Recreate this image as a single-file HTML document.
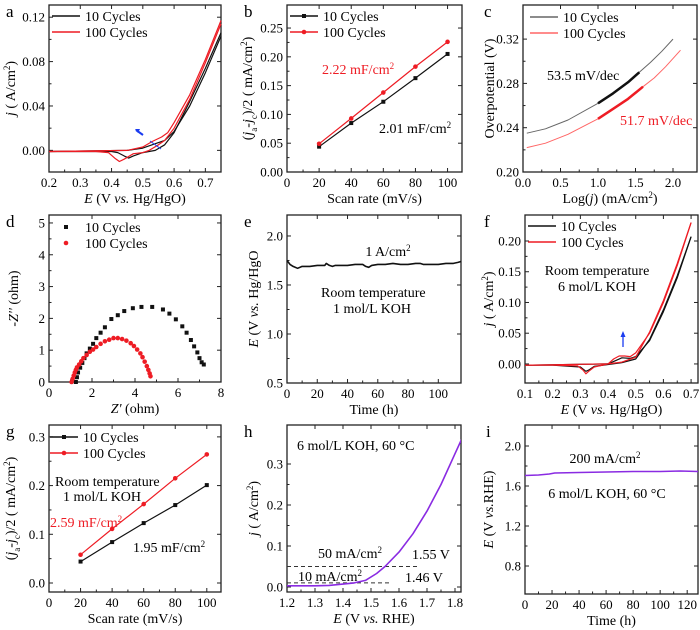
<!DOCTYPE html>
<html><head><meta charset="utf-8"><style>
html,body{margin:0;padding:0;background:#fff}
svg{display:block;font-family:"Liberation Serif","Times New Roman","DejaVu Serif",serif}
svg text{font-family:"Liberation Serif","Times New Roman","DejaVu Serif",serif}
</style></head><body>
<svg id="fig" width="700" height="630" viewBox="0 0 700 630" font-family="Liberation Serif, DejaVu Serif, serif" xmlns="http://www.w3.org/2000/svg"></svg>
<script>
// ---- panel a data ----
const aBlackFwdE=[0.2,0.45,0.5,0.54,0.57,0.6,0.65,0.7,0.75];
const aBlackFwdJ=[-0.001,0.0,0.002,0.006,0.009,0.017,0.04,0.07,0.103];
const aBlackRevE=[0.75,0.7,0.65,0.6,0.57,0.54,0.5,0.47,0.455,0.44,0.42,0.4,0.2];
const aBlackRevJ=[0.106,0.074,0.044,0.016,0.005,0.0,-0.002,-0.005,-0.007,-0.005,-0.002,-0.001,-0.001];
const aRedFwdE=[0.2,0.45,0.5,0.53,0.56,0.58,0.6,0.65,0.7,0.75];
const aRedFwdJ=[-0.001,0.0,0.003,0.008,0.012,0.016,0.025,0.05,0.082,0.117];
const aRedRevE=[0.75,0.7,0.65,0.6,0.57,0.55,0.52,0.5,0.47,0.44,0.425,0.41,0.39,0.35,0.2];
const aRedRevJ=[0.114,0.079,0.046,0.02,0.009,0.005,0.0,-0.002,-0.003,-0.008,-0.01,-0.007,-0.002,-0.001,-0.001];
// ---- panel b data ----
const bRates=[20,40,60,80,100];
const bBlack=[0.044,0.085,0.122,0.163,0.205];
const bRed=[0.049,0.093,0.138,0.183,0.226];
// ---- panel c data ----
const cBlackX=[0.05,0.3,0.6,1.0,1.2,1.4,1.55,1.7,1.85,2.0];
const cBlackY=[0.235,0.239,0.247,0.262,0.271,0.281,0.290,0.299,0.309,0.320];
const cRedX=[0.05,0.3,0.6,1.0,1.2,1.4,1.6,1.75,1.9,2.1];
const cRedY=[0.222,0.226,0.234,0.248,0.257,0.266,0.277,0.285,0.295,0.310];
const cBlackBoldX=[1.0,1.2,1.4,1.55];
const cBlackBoldY=[0.262,0.271,0.281,0.290];
const cRedBoldX=[1.0,1.2,1.4,1.6];
const cRedBoldY=[0.248,0.257,0.266,0.277];
// ---- panel d data ----
const dBlackX=[1.25,1.3,1.35,1.45,1.55,1.65,1.75,1.9,2.05,2.2,2.4,2.6,2.9,3.2,3.5,3.9,4.3,4.8,5.3,5.6,5.9,6.2,6.4,6.6,6.75,6.9,7.0,7.1,7.2];
const dBlackY=[0.0,0.15,0.3,0.45,0.6,0.75,0.9,1.05,1.2,1.38,1.55,1.72,1.98,2.1,2.23,2.32,2.36,2.36,2.28,2.15,1.97,1.75,1.55,1.32,1.12,0.93,0.75,0.62,0.55];
const dRedX=[1.05,1.1,1.15,1.2,1.25,1.3,1.4,1.5,1.6,1.75,1.9,2.05,2.2,2.4,2.6,2.8,3.0,3.2,3.4,3.6,3.8,3.95,4.1,4.25,4.35,4.45,4.55,4.62,4.68,4.72];
const dRedY=[0,0.1,0.2,0.3,0.38,0.46,0.55,0.65,0.75,0.85,0.95,1.02,1.1,1.2,1.28,1.33,1.38,1.38,1.35,1.3,1.22,1.13,1.02,0.9,0.78,0.64,0.5,0.38,0.27,0.18];
// ---- panel e data ----
const eTime=[0,2,4,7,10,15,20,25,26,28,30,32,35,40,45,50,52,54,56,60,65,70,75,80,85,88,90,95,100,105,110,113,115];
const eVolt=[1.75,1.71,1.69,1.67,1.69,1.69,1.70,1.70,1.72,1.70,1.69,1.70,1.70,1.70,1.71,1.71,1.69,1.68,1.70,1.71,1.71,1.72,1.71,1.71,1.72,1.72,1.71,1.71,1.71,1.72,1.72,1.73,1.74];
// ---- panel f data ----
const fBlackFwdE=[0.1,0.4,0.43,0.45,0.48,0.5,0.55,0.6,0.65,0.7];
const fBlackFwdJ=[-0.002,0.0,0.006,0.01,0.009,0.012,0.038,0.085,0.14,0.207];
const fBlackRevE=[0.7,0.65,0.6,0.55,0.5,0.45,0.35,0.33,0.32,0.3,0.2,0.1];
const fBlackRevJ=[0.207,0.143,0.088,0.04,0.008,0.002,-0.004,-0.01,-0.012,-0.005,-0.002,-0.002];
const fRedFwdE=[0.1,0.4,0.42,0.44,0.46,0.48,0.5,0.55,0.6,0.65,0.7];
const fRedFwdJ=[-0.002,0.0,0.008,0.013,0.013,0.012,0.018,0.05,0.1,0.16,0.23];
const fRedRevE=[0.7,0.65,0.6,0.55,0.5,0.45,0.4,0.35,0.33,0.32,0.31,0.29,0.2,0.1];
const fRedRevJ=[0.23,0.163,0.103,0.052,0.011,0.003,0.0,-0.005,-0.012,-0.016,-0.01,-0.003,-0.002,-0.002];
// ---- panel g data ----
const gRates=[20,40,60,80,100];
const gBlack=[0.044,0.084,0.123,0.160,0.201];
const gRed=[0.058,0.111,0.162,0.215,0.264];
// ---- panel h data ----
const hE=[1.2,1.3,1.35,1.4,1.44,1.48,1.52,1.55,1.6,1.65,1.7,1.75,1.8,1.82,1.84];
const hJ=[0.003,0.003,0.004,0.007,0.01,0.016,0.033,0.05,0.085,0.13,0.185,0.25,0.325,0.355,0.38];
// ---- panel i data ----
const iTime=[0,10,18,22,40,60,80,100,115,128];
const iVolt=[1.705,1.71,1.72,1.73,1.735,1.74,1.745,1.745,1.75,1.745];

const NS="http://www.w3.org/2000/svg";
const svg=document.getElementById('fig');
function el(tag,attrs,parent,txt){const e=document.createElementNS(NS,tag);for(const k in attrs)e.setAttribute(k,attrs[k]);if(txt!==undefined)e.textContent=txt;(parent||svg).appendChild(e);return e;}

function panel(p){
  const g=el('g',{});
  
  
  const sx=v=>p.x0+(v-p.xd[0])/(p.xd[1]-p.xd[0])*(p.x1-p.x0);
  const sy=v=>p.y1-(v-p.yd[0])/(p.yd[1]-p.yd[0])*(p.y1-p.y0);
  const fr=el('rect',{x:p.x0,y:p.y0,width:p.x1-p.x0,height:p.y1-p.y0,fill:'none',stroke:'#222','stroke-width':1.3},g);
  
  
  const lab=el('text',{x:p.lx,y:p.ly,'font-size':17},g,p.id);
  
  
  p.xt.forEach((v,i)=>{const x=sx(v);
    el('line',{x1:x,x2:x,y1:p.y1,y2:p.y1-4,stroke:'#222'},g);
    el('line',{x1:x,x2:x,y1:p.y0,y2:p.y0+4,stroke:'#222'},g);
    const t=el('text',{x:x,y:p.y1+15,'font-size':13,'text-anchor':'middle'},g,p.xl[i]);
    
    
    if(i<p.xt.length-1){const m=sx((v+p.xt[i+1])/2);el('line',{x1:m,x2:m,y1:p.y1,y2:p.y1-2.5,stroke:'#222'},g);}
  });
  p.yt.forEach((v,i)=>{const y=sy(v);
    el('line',{x1:p.x0,x2:p.x0+4,y1:y,y2:y,stroke:'#222'},g);
    el('line',{x1:p.x1,x2:p.x1-4,y1:y,y2:y,stroke:'#222'},g);
    const t=el('text',{x:p.x0-4,y:y+4.5,'font-size':13,'text-anchor':'end'},g,p.yl[i]);
    
    
    if(i<p.yt.length-1){const m=sy((v+p.yt[i+1])/2);el('line',{x1:p.x0,x2:p.x0+2.5,y1:m,y2:m,stroke:'#222'},g);}
  });
  const xt=el('text',{x:(p.x0+p.x1)/2,y:p.y1+31,'font-size':14,'text-anchor':'middle'},g);
  xt.innerHTML=p.xtitle;
  
  
  const yt=el('text',{x:0,y:0,'font-size':14,'text-anchor':'middle',transform:`translate(${p.ytx},${(p.y0+p.y1)/2}) rotate(-90)`},g);
  yt.innerHTML=p.ytitle;
  
  
  return {g,sx,sy};
}
function line(P,xs,ys,color,w,name){
  const d=xs.map((x,i)=>(i?'L':'M')+P.sx(x).toFixed(1)+','+P.sy(ys[i]).toFixed(1)).join('');
  const e=el('path',{d:d,fill:'none',stroke:color,'stroke-width':w||1.3,'stroke-linejoin':'round'},P.g);
  
  
  return e;
}
function marks(P,xs,ys,color,shape,name,sz){
  xs.forEach((x,i)=>{const cx=P.sx(x),cy=P.sy(ys[i]);let m;sz=sz||4;
    if(shape==='sq')m=el('rect',{x:cx-sz/2,y:cy-sz/2,width:sz,height:sz,fill:color},P.g);
    else m=el('circle',{cx:cx,cy:cy,r:sz/2+0.3,fill:color},P.g);
    
    
  });
}
function txt(P,x,y,s,opts){const t=el('text',Object.assign({x:x,y:y,'font-size':14},opts||{}),P.g);t.innerHTML=s;
  
  return t;}
function legend(P,x,y,label,color,mk,noLine){
  const g=el('g',{},P.g);
  
  
  if(!noLine)el('line',{x1:x,x2:x+28,y1:y,y2:y,stroke:color,'stroke-width':1.5},g);
  if(mk==='sq')el('rect',{x:x+12,y:y-2,width:4,height:4,fill:color},g);
  if(mk==='c')el('circle',{cx:x+14,cy:y,r:2.3,fill:color},g);
  el('text',{x:x+33,y:y+5,'font-size':14},g,label);
}
const RED='#ee1c24', BLK='#111';
const JI='<tspan font-style="italic">j</tspan>';
const EI='<tspan font-style="italic">E</tspan>';
const VS='<tspan font-style="italic">vs.</tspan>';

// a
let P=panel({id:'a',x0:49,x1:221,y0:5,y1:172,xd:[0.2,0.75],yd:[-0.0195,0.131],lx:6,ly:17,
 xt:[0.2,0.3,0.4,0.5,0.6,0.7],xl:['0.2','0.3','0.4','0.5','0.6','0.7'],
 yt:[0,0.04,0.08,0.12],yl:['0.00','0.04','0.08','0.12'],
 xtitle:EI+' (V '+VS+' Hg/HgO)',ytitle:JI+' ( A/cm<tspan baseline-shift="super" font-size="9">2</tspan>)',ytx:15});
line(P,aBlackFwdE,aBlackFwdJ,BLK,1.2,'cv-10-cycles-forward');
line(P,aBlackRevE,aBlackRevJ,BLK,1.2,'cv-10-cycles-reverse');
line(P,aRedFwdE,aRedFwdJ,RED,1.2,'cv-100-cycles-forward');
line(P,aRedRevE,aRedRevJ,RED,1.2,'cv-100-cycles-reverse');
el('line',{x1:143,y1:135,x2:136,y2:130,stroke:'#1a3cf0','stroke-width':2},P.g);
el('path',{d:'M135,129 l5,0 l-2,4z',fill:'#1a3cf0'},P.g);
el('line',{x1:150,y1:141,x2:161,y2:149,stroke:'#1a3cf0','stroke-width':1},P.g);
legend(P,52,16,'10 Cycles',BLK);legend(P,52,32,'100 Cycles',RED);

// b
P=panel({id:'b',x0:287,x1:462,y0:5,y1:172,xd:[0,109],yd:[0,0.29],lx:244,ly:17,
 xt:[0,20,40,60,80,100],xl:['0','20','40','60','80','100'],
 yt:[0,0.05,0.1,0.15,0.2,0.25],yl:['0.00','0.05','0.10','0.15','0.20','0.25'],
 xtitle:'Scan rate (mV/s)',ytitle:'(<tspan font-style="italic">j</tspan><tspan baseline-shift="sub" font-size="9">a</tspan>-<tspan font-style="italic">j</tspan><tspan baseline-shift="sub" font-size="9">c</tspan>)/2 ( mA/cm<tspan baseline-shift="super" font-size="9">2</tspan>)',ytx:252});
line(P,bRates,bBlack,BLK,1.2,'line-10-cycles');line(P,bRates,bRed,RED,1.2,'line-100-cycles');
marks(P,bRates,bBlack,BLK,'sq','point-10-cycles');marks(P,bRates,bRed,RED,'c','point-100-cycles');
legend(P,290,16,'10 Cycles',BLK,'sq');legend(P,290,32,'100 Cycles',RED,'c');
txt(P,322,74,'2.22 mF/cm<tspan baseline-shift="super" font-size="9">2</tspan>',{fill:RED});
txt(P,379,133,'2.01 mF/cm<tspan baseline-shift="super" font-size="9">2</tspan>');

// c
P=panel({id:'c',x0:523,x1:697,y0:5,y1:172,xd:[0,2.32],yd:[0.2,0.3508],lx:484,ly:17,
 xt:[0,0.5,1,1.5,2],xl:['0.0','0.5','1.0','1.5','2.0'],
 yt:[0.2,0.24,0.28,0.32],yl:['0.20','0.24','0.28','0.32'],
 xtitle:'Log(<tspan font-style="italic">j</tspan>) (mA/cm<tspan baseline-shift="super" font-size="9">2</tspan>)',ytitle:'Overpotential (V)',ytx:494});
line(P,cBlackX,cBlackY,'#666',1,'tafel-10-cycles');line(P,cRedX,cRedY,'#f66',1,'tafel-100-cycles');
line(P,cBlackBoldX,cBlackBoldY,BLK,2.5,'tafel-fit-10-cycles');line(P,cRedBoldX,cRedBoldY,RED,2.5,'tafel-fit-100-cycles');
legend(P,530,17,'10 Cycles','#666');legend(P,530,33,'100 Cycles','#f66');
txt(P,547,80,'53.5 mV/dec');txt(P,620,125,'51.7 mV/dec',{fill:RED});

// d
P=panel({id:'d',x0:49,x1:221,y0:215,y1:382,xd:[0,8],yd:[0,5.25],lx:6,ly:227,
 xt:[0,2,4,6,8],xl:['0','2','4','6','8'],
 yt:[0,1,2,3,4,5],yl:['0','1','2','3','4','5'],
 xtitle:'<tspan font-style="italic">Z\'</tspan> (ohm)',ytitle:'-<tspan font-style="italic">Z\'\'</tspan> (ohm)',ytx:18});
marks(P,dBlackX,dBlackY,BLK,'sq','nyquist-10-cycles',4);marks(P,dRedX,dRedY,RED,'c','nyquist-100-cycles',4);
legend(P,52,227,'10 Cycles',BLK,'sq',true);legend(P,52,243,'100 Cycles',RED,'c',true);

// e
P=panel({id:'e',x0:287,x1:461,y0:215,y1:383,xd:[0,115],yd:[0.5,2.214],lx:244,ly:227,
 xt:[0,20,40,60,80,100],xl:['0','20','40','60','80','100'],
 yt:[0.5,1.0,1.5,2.0],yl:['0.5','1.0','1.5','2.0'],
 xtitle:'Time (h)',ytitle:EI+' (V '+VS+' Hg/HgO',ytx:258});
line(P,eTime,eVolt,BLK,1.6,'potential-curve');
txt(P,388,256,'1 A/cm<tspan baseline-shift="super" font-size="9">2</tspan>',{'text-anchor':'middle'});
txt(P,321,297,'Room temperature');txt(P,333,313,'1 mol/L KOH');

// f
P=panel({id:'f',x0:525,x1:698,y0:215,y1:383,xd:[0.1,0.725],yd:[-0.031,0.2423],lx:484,ly:227,
 xt:[0.1,0.2,0.3,0.4,0.5,0.6,0.7],xl:['0.1','0.2','0.3','0.4','0.5','0.6','0.7'],
 yt:[0,0.05,0.1,0.15,0.2],yl:['0.00','0.05','0.10','0.15','0.20'],
 xtitle:EI+' (V '+VS+' Hg/HgO)',ytitle:JI+' ( A/cm<tspan baseline-shift="super" font-size="9">2</tspan>)',ytx:493});
line(P,fBlackFwdE,fBlackFwdJ,BLK,1.2,'cv-10-cycles-forward');line(P,fBlackRevE,fBlackRevJ,BLK,1.2,'cv-10-cycles-reverse');
line(P,fRedFwdE,fRedFwdJ,RED,1.2,'cv-100-cycles-forward');line(P,fRedRevE,fRedRevJ,RED,1.2,'cv-100-cycles-reverse');
el('line',{x1:623,y1:347,x2:623,y2:336,stroke:'#1a3cf0','stroke-width':1.3},P.g);
el('path',{d:'M620.5,337 l2.5,-6 l2.5,6z',fill:'#1a3cf0'},P.g);
legend(P,528,226,'10 Cycles',BLK);legend(P,528,242,'100 Cycles',RED);
txt(P,597,275,'Room temperature',{'text-anchor':'middle'});txt(P,597,291,'6 mol/L KOH',{'text-anchor':'middle'});

// g
P=panel({id:'g',x0:49,x1:221,y0:425,y1:592,xd:[0,109],yd:[-0.0185,0.3244],lx:6,ly:437,
 xt:[0,20,40,60,80,100],xl:['0','20','40','60','80','100'],
 yt:[0,0.1,0.2,0.3],yl:['0.0','0.1','0.2','0.3'],
 xtitle:'Scan rate (mV/s)',ytitle:'(<tspan font-style="italic">j</tspan><tspan baseline-shift="sub" font-size="9">a</tspan>-<tspan font-style="italic">j</tspan><tspan baseline-shift="sub" font-size="9">c</tspan>)/2 ( mA/cm<tspan baseline-shift="super" font-size="9">2</tspan>)',ytx:15});
line(P,gRates,gBlack,BLK,1.2,'line-10-cycles');line(P,gRates,gRed,RED,1.2,'line-100-cycles');
marks(P,gRates,gBlack,BLK,'sq','point-10-cycles');marks(P,gRates,gRed,RED,'c','point-100-cycles');
legend(P,50,437,'10 Cycles',BLK,'sq');legend(P,50,453,'100 Cycles',RED,'c');
txt(P,55,486,'Room temperature');txt(P,63,501,'1 mol/L KOH');
txt(P,50,527,'2.59 mF/cm<tspan baseline-shift="super" font-size="9">2</tspan>',{fill:RED});
txt(P,133,552,'1.95 mF/cm<tspan baseline-shift="super" font-size="9">2</tspan>');

// h
P=panel({id:'h',x0:287,x1:461,y0:425,y1:592,xd:[1.2,1.8214],yd:[-0.0122,0.3951],lx:244,ly:437,
 xt:[1.2,1.3,1.4,1.5,1.6,1.7,1.8],xl:['1.2','1.3','1.4','1.5','1.6','1.7','1.8'],
 yt:[0,0.1,0.2,0.3],yl:['0.0','0.1','0.2','0.3'],
 xtitle:EI+' (V '+VS+' RHE)',ytitle:JI+' ( A/cm<tspan baseline-shift="super" font-size="9">2</tspan>)',ytx:258});
const hc=el('clipPath',{id:'hclip'},P.g);el('rect',{x:287,y:425,width:174,height:167},hc);
line(P,[1.2,1.675],[0.05,0.05],'#333',1,'dashed-50ma').setAttribute('stroke-dasharray','4,3');
line(P,[1.2,1.565],[0.01,0.01],'#333',1,'dashed-10ma').setAttribute('stroke-dasharray','4,3');
line(P,hE,hJ,'#8a2be2',1.6,'lsv-curve').setAttribute('clip-path','url(#hclip)');
txt(P,297,450,'6 mol/L KOH, 60 °C');
txt(P,318,558,'50 mA/cm<tspan baseline-shift="super" font-size="9">2</tspan>');
txt(P,298,581,'10 mA/cm<tspan baseline-shift="super" font-size="9">2</tspan>');
txt(P,412,559,'1.55 V');txt(P,405,582,'1.46 V');

// i
P=panel({id:'i',x0:525,x1:698,y0:425,y1:594,xd:[0,128],yd:[0.52,2.21],lx:486,ly:437,
 xt:[0,20,40,60,80,100,120],xl:['0','20','40','60','80','100','120'],
 yt:[0.8,1.2,1.6,2.0],yl:['0.8','1.2','1.6','2.0'],
 xtitle:'Time (h)',ytitle:EI+' (V '+VS+'RHE)',ytx:493});
line(P,iTime,iVolt,'#8a2be2',1.6,'potential-curve');
txt(P,605,463,'200 mA/cm<tspan baseline-shift="super" font-size="9">2</tspan>',{'text-anchor':'middle'});
txt(P,607,498,'6 mol/L KOH, 60 °C',{'text-anchor':'middle'});
</script>
</body></html>
